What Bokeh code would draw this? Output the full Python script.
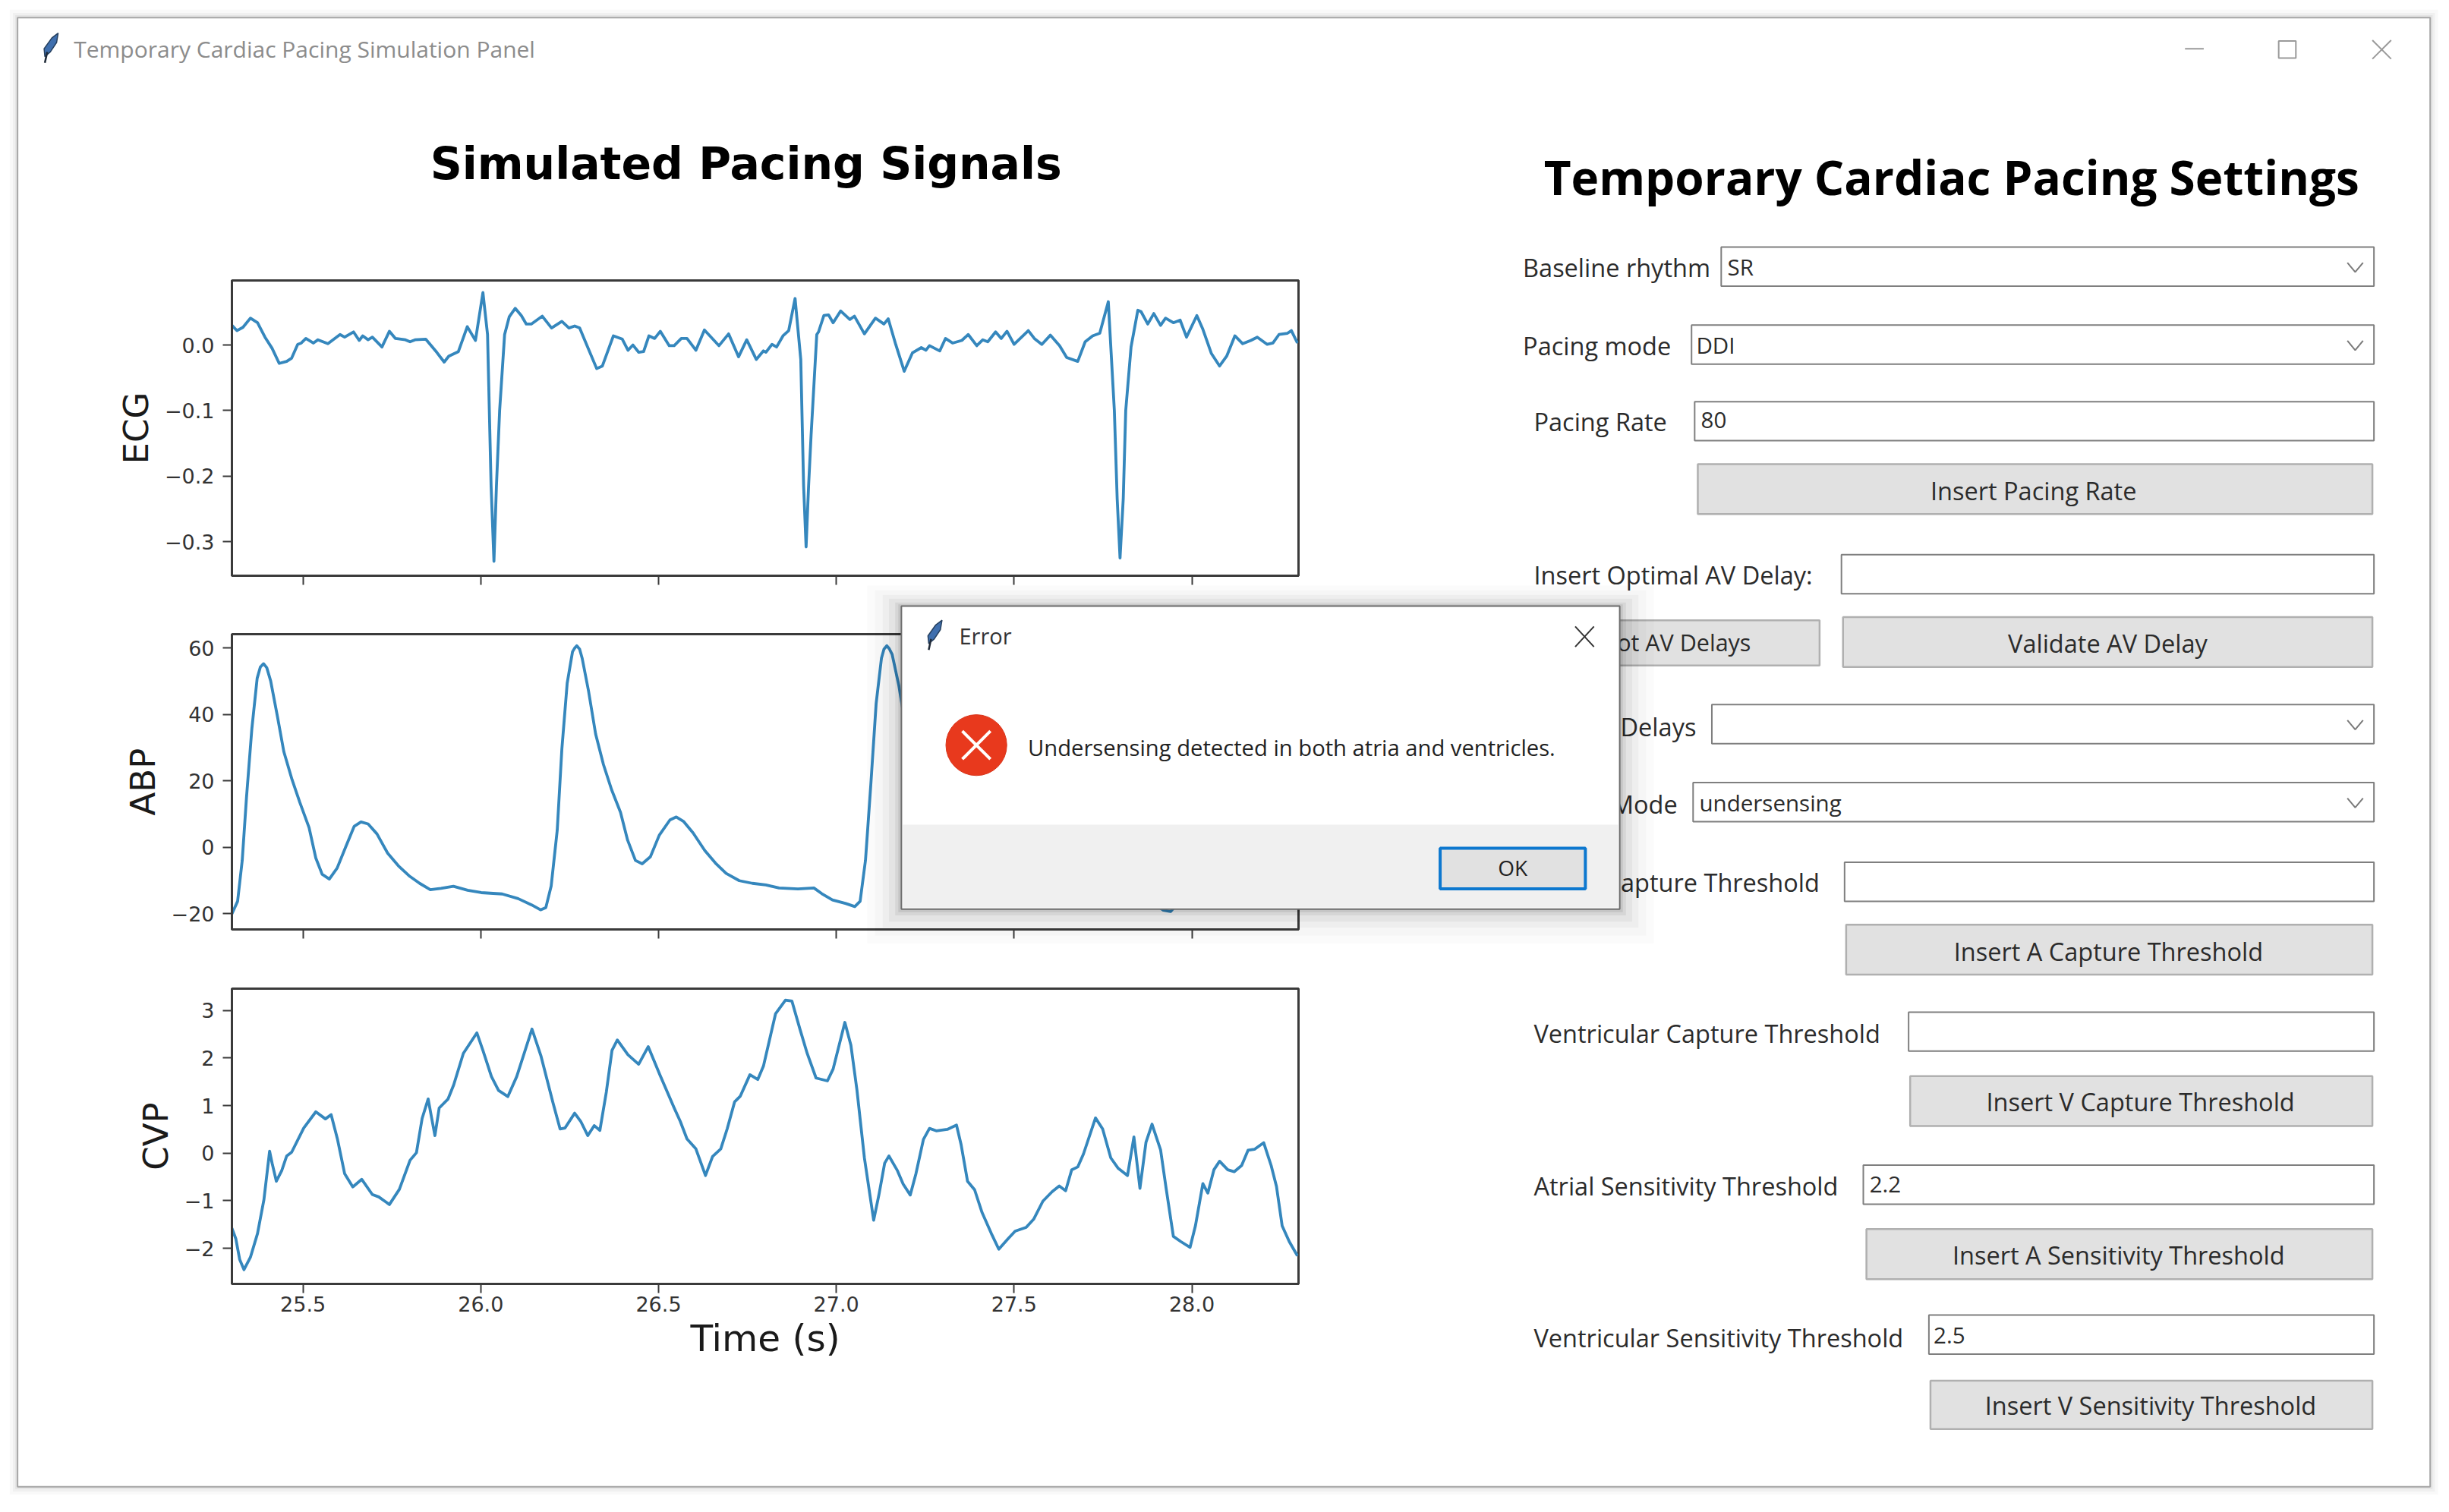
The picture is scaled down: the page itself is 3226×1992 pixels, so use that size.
from bokeh.core.properties import value
from bokeh.embed import file_html
from bokeh.layouts import column
from bokeh.models import CustomJSTickFormatter, FixedTicker, Range1d
from bokeh.plotting import figure
from bokeh.resources import INLINE

# ---------- data ----------
time_ticks = [25.5, 26.0, 26.5, 27.0, 27.5, 28.0]
time_tick_labels = ["25.5", "26.0", "26.5", "27.0", "27.5", "28.0"]
ecg_ticks = [0.0, -0.1, -0.2, -0.3]
ecg_tick_labels = ["0.0", "\u22120.1", "\u22120.2", "\u22120.3"]
abp_ticks = [60, 40, 20, 0, -20]
abp_tick_labels = ["60", "40", "20", "0", "\u221220"]
cvp_ticks = [3, 2, 1, 0, -1, -2]
cvp_tick_labels = ["3", "2", "1", "0", "\u22121", "\u22122"]

ecg_t = [25.300, 25.314, 25.331, 25.352, 25.372, 25.393, 25.413, 25.433, 25.454, 25.468, 25.485, 25.495, 25.508,
         25.529, 25.542, 25.570, 25.604, 25.617, 25.642, 25.658, 25.668, 25.683, 25.695, 25.722, 25.743, 25.760,
         25.788, 25.801, 25.815, 25.845, 25.876, 25.897, 25.910, 25.937, 25.962, 25.985, 26.006, 26.019, 26.029,
         26.037, 26.044, 26.053, 26.067, 26.080, 26.097, 26.114, 26.128, 26.142, 26.173, 26.199, 26.228, 26.248,
         26.264, 26.278, 26.292, 26.326, 26.342, 26.373, 26.398, 26.414, 26.428, 26.444, 26.458, 26.473, 26.489,
         26.505, 26.530, 26.544, 26.564, 26.580, 26.605, 26.629, 26.670, 26.697, 26.725, 26.748, 26.775, 26.795,
         26.802, 26.819, 26.832, 26.850, 26.866, 26.884, 26.900, 26.908, 26.915, 26.922, 26.929, 26.945, 26.950,
         26.965, 26.978, 26.991, 27.012, 27.038, 27.051, 27.079, 27.110, 27.134, 27.146, 27.167, 27.191, 27.214,
         27.239, 27.252, 27.262, 27.291, 27.307, 27.327, 27.353, 27.371, 27.395, 27.412, 27.426, 27.448, 27.464,
         27.480, 27.500, 27.540, 27.557, 27.578, 27.602, 27.628, 27.648, 27.679, 27.700, 27.721, 27.741, 27.765,
         27.782, 27.790, 27.798, 27.807, 27.814, 27.829, 27.848, 27.857, 27.876, 27.893, 27.912, 27.926, 27.948,
         27.967, 27.985, 28.014, 28.031, 28.055, 28.078, 28.098, 28.121, 28.143, 28.166, 28.184, 28.212, 28.228,
         28.245, 28.269, 28.280, 28.297]
ecg_v = [0.030, 0.022, 0.027, 0.041, 0.034, 0.012, -0.005, -0.028, -0.025, -0.020, 0.001, 0.003, 0.010,
         0.003, 0.008, 0.002, 0.016, 0.012, 0.020, 0.007, 0.014, 0.008, 0.012, -0.003, 0.021, 0.010,
         0.008, 0.005, 0.008, 0.009, -0.011, -0.026, -0.017, -0.010, 0.028, 0.007, 0.080, 0.016, -0.215,
         -0.330, -0.215, -0.100, 0.016, 0.043, 0.056, 0.045, 0.032, 0.032, 0.044, 0.026, 0.036, 0.026,
         0.029, 0.026, 0.008, -0.036, -0.032, 0.014, 0.009, -0.008, 0.000, -0.011, -0.010, 0.014, 0.010,
         0.021, -0.001, -0.001, 0.010, 0.010, -0.008, 0.023, -0.001, 0.017, -0.018, 0.008, -0.022, -0.009,
         -0.011, 0.001, -0.003, 0.014, 0.022, 0.071, -0.022, -0.215, -0.308, -0.215, -0.138, 0.016, 0.020,
         0.045, 0.046, 0.034, 0.052, 0.039, 0.044, 0.017, 0.041, 0.032, 0.040, 0.001, -0.040, -0.012,
         -0.004, -0.008, -0.001, -0.009, 0.010, 0.003, 0.007, 0.016, -0.001, 0.008, 0.005, 0.020, 0.010,
         0.021, 0.001, 0.022, 0.010, 0.001, 0.015, -0.001, -0.019, -0.025, 0.005, 0.014, 0.018, 0.066,
         -0.100, -0.235, -0.325, -0.235, -0.100, -0.003, 0.053, 0.051, 0.032, 0.048, 0.030, 0.041, 0.034,
         0.038, 0.012, 0.045, 0.024, -0.013, -0.032, -0.017, 0.014, 0.002, 0.007, 0.012, 0.001, 0.003,
         0.016, 0.018, 0.022, 0.003]

abp_t = [25.300, 25.316, 25.329, 25.341, 25.356, 25.371, 25.380, 25.389, 25.398, 25.409, 25.428, 25.446, 25.469, 25.491, 25.517,
         25.536, 25.554, 25.574, 25.596, 25.619, 25.644, 25.663, 25.683, 25.708, 25.738, 25.768, 25.798, 25.828,
         25.858, 25.888, 25.923, 25.963, 26.001, 26.060, 26.105, 26.143, 26.168, 26.183, 26.198, 26.215, 26.228,
         26.243, 26.258, 26.264, 26.270, 26.278, 26.285, 26.303, 26.323, 26.345, 26.368, 26.393, 26.413, 26.435, 26.454, 26.477,
         26.502, 26.532, 26.550, 26.570, 26.597, 26.630, 26.660, 26.690, 26.727, 26.764, 26.802, 26.839, 26.892,
         26.937, 26.959, 26.989, 27.027, 27.052, 27.067, 27.082, 27.097, 27.112, 27.127, 27.134, 27.142, 27.149, 27.157, 27.176,
         27.200, 27.230, 27.260, 27.290, 27.330, 27.360, 27.400, 27.440, 27.480, 27.540, 27.600, 27.660, 27.740,
         27.820, 27.880, 27.920, 27.940, 27.960, 27.975, 28.000, 28.040, 28.100, 28.150, 28.200, 28.300]
abp_v = [-20.1, -16.3, -4.0, 15.0, 35.6, 50.9, 54.3, 55.3, 54.1, 50.1, 39.4, 28.8, 20.4, 13.5, 5.9,
         -3.3, -8.2, -9.6, -6.3, -0.2, 6.3, 7.6, 7.0, 4.0, -1.8, -5.6, -8.6, -10.9,
         -12.8, -12.4, -11.8, -13.0, -13.7, -14.1, -15.5, -17.4, -18.9, -18.2, -11.7, 5.1, 29.5,
         49.4, 58.9, 60.0, 60.7, 59.7, 57.0, 47.1, 34.1, 24.9, 17.3, 10.5, 2.1, -4.0, -5.0, -2.9,
         3.6, 8.2, 9.1, 7.8, 4.3, -1.0, -4.8, -7.9, -10.1, -10.9, -11.4, -12.3, -12.6,
         -12.3, -14.0, -15.9, -17.0, -17.9, -16.3, -4.0, 18.8, 43.3, 57.0, 59.7, 60.7, 59.8, 58.1, 48.6,
         33.0, 20.0, 8.0, -1.0, -5.0, -3.0, 4.0, 8.0, 5.0, -2.0, -8.0, -11.0, -13.0,
         -14.0, -16.0, -19.0, -19.4, -17.0, -4.0, 30.0, 60.0, 35.0, 12.0, 0.0, 5.0]

cvp_t = [25.300, 25.311, 25.322, 25.334, 25.352, 25.372, 25.390, 25.406, 25.413, 25.425, 25.440, 25.454, 25.468,
         25.502, 25.536, 25.563, 25.579, 25.597, 25.617, 25.640, 25.665, 25.695, 25.713, 25.743, 25.771, 25.801,
         25.819, 25.835, 25.852, 25.862, 25.871, 25.883, 25.908, 25.924, 25.951, 25.989, 26.006, 26.030, 26.050,
         26.076, 26.101, 26.144, 26.169, 26.203, 26.223, 26.237, 26.264, 26.281, 26.301, 26.319, 26.335, 26.353,
         26.369, 26.384, 26.414, 26.444, 26.471, 26.503, 26.544, 26.561, 26.580, 26.605, 26.632, 26.652, 26.675,
         26.693, 26.714, 26.730, 26.757, 26.779, 26.795, 26.829, 26.857, 26.875, 26.898, 26.918, 26.943, 26.975,
         26.991, 27.024, 27.041, 27.058, 27.079, 27.105, 27.120, 27.136, 27.148, 27.172, 27.188, 27.208, 27.224,
         27.245, 27.262, 27.281, 27.312, 27.338, 27.351, 27.369, 27.389, 27.410, 27.436, 27.457, 27.483, 27.503,
         27.534, 27.555, 27.581, 27.607, 27.627, 27.645, 27.662, 27.679, 27.695, 27.729, 27.749, 27.772, 27.793,
         27.819, 27.837, 27.854, 27.871, 27.888, 27.912, 27.928, 27.948, 27.969, 27.995, 28.010, 28.031, 28.045,
         28.062, 28.078, 28.101, 28.119, 28.140, 28.158, 28.176, 28.202, 28.223, 28.238, 28.254, 28.274, 28.297]
cvp_v = [-1.58, -1.80, -2.24, -2.45, -2.19, -1.69, -0.98, 0.04, -0.21, -0.59, -0.37, -0.06, 0.02,
         0.53, 0.87, 0.72, 0.81, 0.29, -0.43, -0.71, -0.55, -0.87, -0.92, -1.08, -0.76, -0.15,
         0.01, 0.73, 1.14, 0.73, 0.37, 0.95, 1.14, 1.44, 2.10, 2.53, 2.16, 1.61, 1.32,
         1.19, 1.61, 2.61, 2.05, 1.06, 0.51, 0.53, 0.84, 0.67, 0.37, 0.58, 0.48, 1.28,
         2.16, 2.38, 2.07, 1.87, 2.24, 1.66, 0.95, 0.67, 0.30, 0.09, -0.47, -0.07, 0.09,
         0.51, 1.08, 1.20, 1.65, 1.55, 1.83, 2.93, 3.22, 3.20, 2.60, 2.10, 1.58, 1.52,
         1.77, 2.75, 2.27, 1.33, -0.10, -1.41, -0.87, -0.21, -0.06, -0.37, -0.65, -0.88, -0.43,
         0.29, 0.52, 0.47, 0.50, 0.59, 0.18, -0.59, -0.77, -1.25, -1.69, -2.02, -1.80, -1.64,
         -1.56, -1.39, -1.01, -0.81, -0.69, -0.79, -0.35, -0.29, -0.02, 0.74, 0.51, -0.10, -0.32,
         -0.47, 0.34, -0.74, 0.23, 0.61, 0.07, -0.76, -1.75, -1.86, -1.98, -1.53, -0.64, -0.84,
         -0.35, -0.17, -0.35, -0.39, -0.26, 0.06, 0.08, 0.22, -0.26, -0.70, -1.53, -1.86, -2.16]

# ---------- styles and layout (panel coordinates x S = picture pixels) ----------
S = 2.057
LINE = "#3587bd"
AXIS = "#3a3a3a"
TICK_TXT = "#333333"
UI_FONT = "Open Sans"
CHART_FONT = "DejaVu Sans"
PAGE = 8
W, H = 3210, 1976


def place(left, top, z):
    return {"position": "absolute", "left": f"{left}px", "top": f"{top}px", "z-index": str(z)}


def panel_fig(x0, y0, x1, y1, z):
    """A figure whose data coordinates are picture pixels, for the window chrome."""
    f = figure(width=x1 - x0, height=y1 - y0, x_range=Range1d(x0, x1), y_range=Range1d(y1, y0),
               x_axis_type=None, y_axis_type=None, toolbar_location=None, output_backend="svg",
               min_border=0, outline_line_color=None, frame_align=False,
               background_fill_color=None, border_fill_color=None,
               styles=place(x0, y0, z))
    return f


def box(f, x1, y1, x2, y2, fill, line, lw=2.0):
    f.quad(left=[x1 * S], right=[x2 * S], top=[y1 * S], bottom=[y2 * S],
           fill_color=fill, line_color=line, line_width=lw)


def label(f, s, x, y, size, align="left", color="#2b2b2b", style="normal", font=UI_FONT):
    f.text(x=[x * S], y=[y * S], text=[s], text_font=value(font), text_font_size=f"{size}px", text_align=align,
           text_baseline="middle", text_color=color, text_font_style=style)


def chevron(f, x, y):
    f.line([(x - 5 * 1.0) * S, x * S, (x + 5) * S], [(y - 3) * S, (y + 3) * S, (y - 3) * S],
           line_color="#7a7a7a", line_width=2)


def feather(f, dx, dy):
    f.patch([(37 + dx) * S, (33 + dx) * S, (28 + dx) * S, (28.5 + dx) * S, (32 + dx) * S, (36 + dx) * S],
            [(21 + dy) * S, (24 + dy) * S, (31 + dy) * S, (36 + dy) * S, (33 + dy) * S, (27 + dy) * S],
            fill_color="#3f6fae", line_color="#26405f", line_width=1.5)
    f.line([(30 + dx) * S, (28.5 + dx) * S], [(33 + dy) * S, (40 + dy) * S], line_color="#1f2a38", line_width=2.5)


# ---------- window background and settings panel ----------
bg = panel_fig(PAGE, PAGE, PAGE + W, PAGE + H, 0)
bg.background_fill_color = "#ffffff"
bg.border_fill_color = "#ffffff"
for grow, alpha in [(5, 0.05), (3, 0.07), (1.5, 0.1)]:
    box(bg, 11 - grow, 11 - grow, 1556 + grow, 952 + grow, "#808080", None, 0)
    bg.renderers[-1].glyph.fill_alpha = alpha
box(bg, 11, 11, 1556, 952, "#ffffff", "#a6a6a6", 2)

feather(bg, 0, 0)
label(bg, "Temporary Cardiac Pacing Simulation Panel", 47, 31, 30, color="#8c8c8c")
bg.line([1399 * S, 1411 * S], [31 * S, 31 * S], line_color="#9a9a9a", line_width=2)
box(bg, 1459, 26, 1470, 37, None, "#9a9a9a", 2)
bg.line([1519 * S, 1531 * S], [25.5 * S, 37.5 * S], line_color="#9a9a9a", line_width=2)
bg.line([1519 * S, 1531 * S], [37.5 * S, 25.5 * S], line_color="#9a9a9a", line_width=2)

label(bg, "Simulated Pacing Signals", 477.5, 105, 58.4, "center", "#000000", "bold", CHART_FONT)
label(bg, "Temporary Cardiac Pacing Settings", 1249.5, 113, 62, "center", "#000000", "bold", UI_FONT)

ENTRY = "#7f7f7f"
BTN_FILL = "#e1e1e1"
BTN_LINE = "#b0b0b0"
for x1, y1, x2, y2 in [(1102, 158, 1520, 183), (1083, 208, 1520, 233), (1096, 451, 1520, 476), (1084, 501, 1520, 526)]:
    box(bg, x1, y1, x2, y2, "#ffffff", ENTRY)
    chevron(bg, 1508, (y1 + y2) / 2 + 0.5)
for x1, y1, x2, y2 in [(1085, 257, 1520, 282), (1179, 355, 1520, 380), (1181, 552, 1520, 577),
                       (1222, 648, 1520, 673), (1193, 746, 1520, 771), (1235, 842, 1520, 867)]:
    box(bg, x1, y1, x2, y2, "#ffffff", ENTRY)
for x1, y1, x2, y2 in [(1087, 297, 1519, 329), (982, 397, 1165, 426), (1180, 395, 1519, 427), (1182, 592, 1519, 624),
                       (1223, 689, 1519, 721), (1195, 787, 1519, 819), (1236, 884, 1519, 915)]:
    box(bg, x1, y1, x2, y2, BTN_FILL, BTN_LINE, 2.5)

LBL = 32.5
VAL = 29.5
for s, x, y in [("Baseline rhythm", 975, 171), ("Pacing mode", 975, 221), ("Pacing Rate", 982, 270),
                ("Insert Optimal AV Delay:", 982, 368), ("Ventricular Capture Threshold", 982, 661.5),
                ("Atrial Sensitivity Threshold", 982, 759.5), ("Ventricular Sensitivity Threshold", 982, 856.5)]:
    label(bg, s, x, y, LBL)
for s, x, y in [("Delays", 1086, 465), ("Mode", 1074, 515), ("apture Threshold", 1165, 565)]:
    label(bg, s, x, y, LBL, "right")
label(bg, "ot AV Delays", 1121, 411, VAL + 1, "right")
for s, x, y in [("Insert Pacing Rate", 1302, 314), ("Validate AV Delay", 1349.5, 412),
                ("Insert A Capture Threshold", 1350, 609), ("Insert V Capture Threshold", 1370.5, 705.5),
                ("Insert A Sensitivity Threshold", 1356.5, 803.5), ("Insert V Sensitivity Threshold", 1377, 900)]:
    label(bg, s, x, y, LBL, "center")
for s, x, y in [("SR", 1106, 170.5), ("DDI", 1086, 220.5), ("80", 1089, 269), ("undersensing", 1088, 514),
                ("2.2", 1197, 758.5), ("2.5", 1238, 855)]:
    label(bg, s, x, y, VAL)

# ---------- the three signal charts ----------
FRAME_L, FRAME_W, FRAME_H = 305, 1405, 389
PAD_L, PAD_R, PAD_T = 210, 10, 10
t_range = (25.3, 28.3)


def chart(frame_top, y_range, ticks, tick_labels, t, v, name, pad_b, with_time):
    p = figure(width=PAD_L + FRAME_W + PAD_R, height=PAD_T + FRAME_H + pad_b,
               x_range=Range1d(*t_range), y_range=Range1d(*y_range),
               toolbar_location=None, output_backend="svg", frame_align=False,
               min_border_left=PAD_L, min_border_right=PAD_R, min_border_top=PAD_T, min_border_bottom=pad_b,
               outline_line_color=AXIS, outline_line_width=3,
               background_fill_color=None, border_fill_color=None,
               styles=place(FRAME_L - PAD_L, frame_top - PAD_T, 1))
    p.grid.visible = False
    p.line(t, v, line_color=LINE, line_width=3.8, line_join="round")
    for ax in (p.xaxis[0], p.yaxis[0]):
        ax.axis_line_color = AXIS
        ax.axis_line_width = 3
        ax.major_tick_line_color = AXIS
        ax.major_tick_line_width = 2
        ax.major_tick_out = 12
        ax.major_tick_in = 0
        ax.minor_tick_line_color = None
        ax.major_label_text_font = CHART_FONT
        ax.major_label_text_font_size = "27px"
        ax.major_label_text_color = TICK_TXT
        ax.major_label_standoff = 11
    p.xaxis[0].major_label_standoff = 4
    p.xaxis[0].ticker = FixedTicker(ticks=time_ticks)
    p.yaxis[0].ticker = FixedTicker(ticks=ticks)
    p.yaxis[0].major_label_overrides = dict(zip(ticks, tick_labels))
    p.yaxis[0].axis_label = name
    p.yaxis[0].axis_label_text_font = CHART_FONT
    p.yaxis[0].axis_label_text_font_size = "45px"
    p.yaxis[0].axis_label_text_font_style = "normal"
    p.yaxis[0].axis_label_text_color = "#1a1a1a"
    p.yaxis[0].axis_label_standoff = 8
    if with_time:
        p.xaxis[0].major_label_overrides = dict(zip(time_ticks, time_tick_labels))
        p.xaxis[0].axis_label = "Time (s)"
        p.xaxis[0].axis_label_text_font = CHART_FONT
        p.xaxis[0].axis_label_text_font_size = "48.5px"
        p.xaxis[0].axis_label_text_font_style = "normal"
        p.xaxis[0].axis_label_text_color = "#1a1a1a"
        p.xaxis[0].axis_label_standoff = 4
    else:
        p.xaxis[0].formatter = CustomJSTickFormatter(code="return ''")
    return p


p_ecg = chart(369, (-0.352, 0.0985), ecg_ticks, ecg_tick_labels, ecg_t, ecg_v, "ECG", 30, False)
p_abp = chart(835, (-24.8, 64.2), abp_ticks, abp_tick_labels, abp_t, abp_v, "ABP", 30, False)
p_cvp = chart(1302, (-2.75, 3.46), cvp_ticks, cvp_tick_labels, cvp_t, cvp_v, "CVP", 120, True)

# ---------- error dialog on top ----------
dlg = panel_fig(1130, 745, 2200, 1270, 2)
for grow, alpha in [(22, 0.015), (17, 0.02), (12, 0.03), (8, 0.04), (4, 0.06), (2, 0.08)]:
    box(dlg, 577 - grow, 388 - grow * 0.6, 1037 + grow, 582 + grow, "#000000", None, 0)
    dlg.renderers[-1].glyph.fill_alpha = alpha
box(dlg, 577, 388, 1037, 582, "#ffffff", "#6e6e6e", 2)
box(dlg, 578, 528, 1036, 581, "#f0f0f0", None, 0)
feather(dlg, 566, 376)
label(dlg, "Error", 614, 407, 29, color="#333333")
dlg.line([1008.5 * S, 1020.5 * S], [401 * S, 414 * S], line_color="#333333", line_width=2)
dlg.line([1008.5 * S, 1020.5 * S], [414 * S, 401 * S], line_color="#333333", line_width=2)
dlg.circle(x=[625 * S], y=[477 * S], radius=19.5 * S, fill_color="#e8391d", line_color="#d8361c")
dlg.line([616 * S, 634 * S], [468 * S, 486 * S], line_color="#ffffff", line_width=4)
dlg.line([616 * S, 634 * S], [486 * S, 468 * S], line_color="#ffffff", line_width=4)
label(dlg, "Undersensing detected in both atria and ventricles.", 658, 478.5, 29.2, color="#222222")
box(dlg, 922, 543, 1015, 569, "#e1e1e1", "#0d78cf", 4)
label(dlg, "OK", 968.5, 555.5, 28, "center", color="#222222")

page = column(bg, p_ecg, p_abp, p_cvp, dlg, width=W, height=H, sizing_mode="fixed")
open("out.html", "w").write(file_html(page, INLINE))
